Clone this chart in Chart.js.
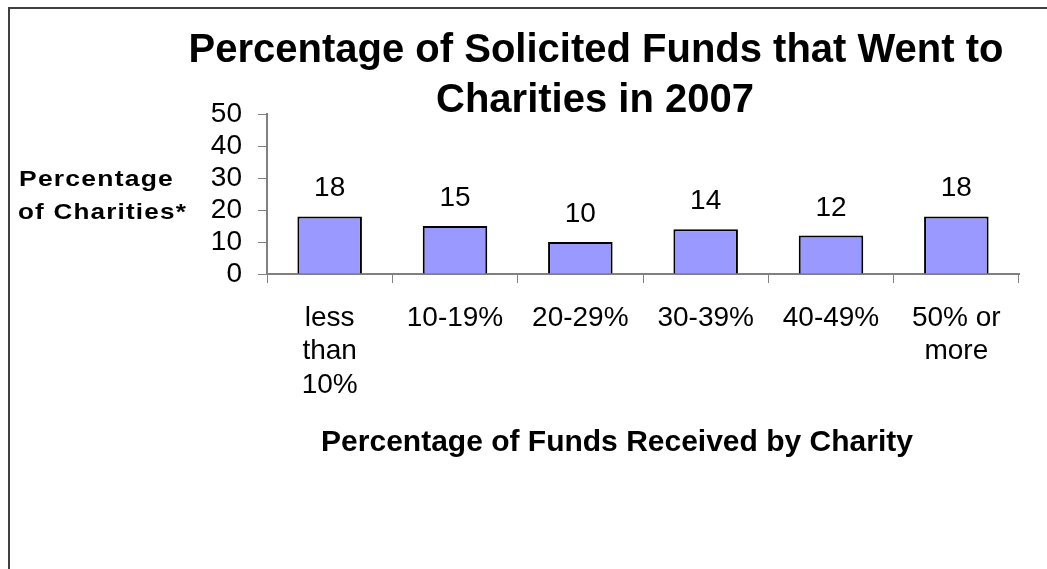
<!DOCTYPE html>
<html>
<head>
<meta charset="utf-8">
<script src="https://cdn.jsdelivr.net/npm/chart.js@4"></script>
<style>
  html, body { margin: 0; padding: 0; background: #fff; }
  #wrap { width: 1047px; height: 569px; position: relative; }
</style>
</head>
<body>
<div id="wrap"><canvas id="c" width="1047" height="569"></canvas></div>
<script>
const categories = [["less", "than", "10%"], "10-19%", "20-29%", "30-39%", "40-49%", ["50% or", "more"]];
const values = [18, 15, 10, 14, 12, 18];
const yTicks = [0, 10, 20, 30, 40, 50];
const titleLines = ["Percentage of Solicited Funds that Went to", "Charities in 2007"];
const yTitleLines = ["Percentage", "of Charities*"];
const xTitle = "Percentage of Funds Received by Charity";

const FONT = "'Liberation Sans', Arial, Helvetica, sans-serif";

function stretchedText(ctx, text, x, y, targetW) {
  const w = ctx.measureText(text).width;
  const s = targetW / w;
  ctx.save();
  ctx.translate(x, y);
  ctx.scale(s, 1);
  ctx.fillText(text, 0, 0);
  ctx.restore();
}

const decor = {
  id: 'decor',
  beforeDraw(chart) {
    const ctx = chart.ctx;
    ctx.save();
    ctx.fillStyle = '#fff';
    ctx.fillRect(0, 0, chart.width, chart.height);
    ctx.strokeStyle = '#404040';
    ctx.lineWidth = 2;
    ctx.beginPath();
    ctx.moveTo(9, chart.height + 2);
    ctx.lineTo(9, 8);
    ctx.lineTo(chart.width + 2, 8);
    ctx.stroke();
    ctx.restore();
  },
  afterDraw(chart) {
    const ctx = chart.ctx;
    ctx.save();
    ctx.fillStyle = '#000';
    // Title
    ctx.font = 'bold 40px ' + FONT;
    ctx.textAlign = 'center';
    ctx.textBaseline = 'alphabetic';
    ctx.fillText(titleLines[0], 596, 62);
    ctx.fillText(titleLines[1], 595, 112);
    // Y title
    ctx.font = 'bold 22px ' + FONT;
    ctx.textAlign = 'left';
    if ('letterSpacing' in ctx) ctx.letterSpacing = '1px';
    stretchedText(ctx, yTitleLines[0], 19, 186, 155);
    stretchedText(ctx, yTitleLines[1], 18, 219, 169);
    if ('letterSpacing' in ctx) ctx.letterSpacing = '0px';
    // X title
    ctx.font = 'bold 30px ' + FONT;
    ctx.textAlign = 'center';
    ctx.fillText(xTitle, 617, 451);
    // Data labels
    ctx.font = '28px ' + FONT;
    const meta = chart.getDatasetMeta(0);
    meta.data.forEach((bar, i) => {
      ctx.fillText(String(values[i]), bar.x, bar.y - 20);
    });
    ctx.restore();
  }
};

new Chart(document.getElementById('c'), {
  type: 'bar',
  data: {
    labels: categories,
    datasets: [{
      data: values,
      backgroundColor: '#9999FF',
      borderColor: '#000000',
      borderWidth: 2,
      borderSkipped: 'bottom',
      barPercentage: 0.515,
      categoryPercentage: 1.0
    }]
  },
  options: {
    responsive: false,
    animation: false,
    devicePixelRatio: 1,
    layout: { padding: { left: 0, right: 28, top: 114, bottom: 0 } },
    plugins: { legend: { display: false }, title: { display: false }, tooltip: { enabled: false } },
    scales: {
      x: {
        afterFit(scale) { scale.height = 295; },
        grid: { display: true, drawOnChartArea: false, drawTicks: true, tickLength: 9, color: '#808080', lineWidth: 1, offset: true },
        border: { display: true, color: '#808080', width: 2 },
        ticks: { color: '#000', font: { family: FONT, size: 28, lineHeight: 1.2 }, padding: 18, maxRotation: 0, autoSkip: false }
      },
      y: {
        min: 0, max: 50,
        afterFit(scale) { scale.width = 267; },
        afterBuildTicks(scale) { scale.ticks = yTicks.map(v => ({ value: v })); },
        grid: { display: true, drawOnChartArea: false, drawTicks: true, tickLength: 9, color: '#808080', lineWidth: 1 },
        border: { display: true, color: '#808080', width: 2 },
        ticks: { color: '#000', font: { family: FONT, size: 28 }, padding: 16, autoSkip: false }
      }
    }
  },
  plugins: [decor]
});
</script>
</body>
</html>
